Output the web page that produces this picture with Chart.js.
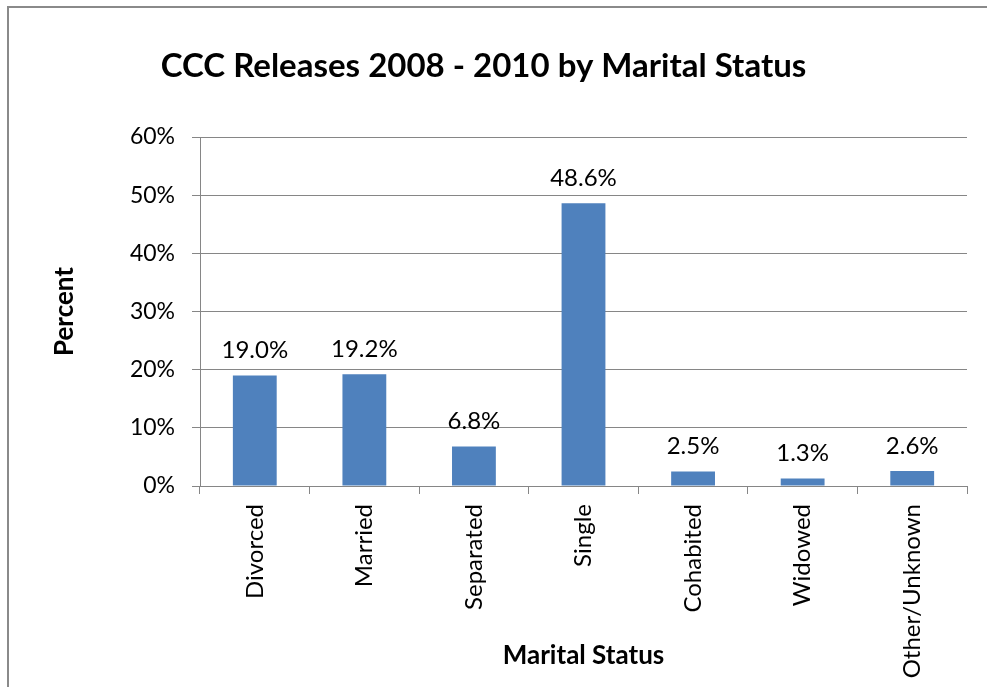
<!DOCTYPE html>
<html>
<head>
<meta charset="utf-8">
<script src="https://cdn.jsdelivr.net/npm/chart.js@4.4.1/dist/chart.umd.min.js"></script>
<style>
    html, body { margin: 0; padding: 0; background: #fff; overflow: hidden; }
    #wrap { position: relative; width: 987px; height: 687px; }
    #frame {
        position: absolute; left: 7px; top: 6px; width: 2000px; height: 2000px;
        border: 2px solid #8a8a8a; pointer-events: none;
    }
</style>
</head>
<body>
<div id="wrap">
    <canvas id="chart" width="987" height="687"></canvas>
    <div id="frame"></div>
</div>
<script>
// chart data
const categories = ["Divorced", "Married", "Separated", "Single", "Cohabited", "Widowed", "Other/Unknown"];
const percents = [19.0, 19.2, 6.8, 48.6, 2.5, 1.3, 2.6];
const yTicks = [0, 10, 20, 30, 40, 50, 60];

const gray = "#868686";
const font = "Lato";

// draw the value above each bar
const barLabels = {
    id: "barLabels",
    afterDatasetsDraw(chart) {
        let ctx = chart.ctx;
        ctx.save();
        ctx.font = "24px " + font;
        ctx.fillStyle = "#000";
        ctx.textAlign = "center";
        ctx.textBaseline = "middle";
        chart.getDatasetMeta(0).data.forEach((bar, i) => {
            ctx.fillText(percents[i].toFixed(1) + "%", bar.x, bar.y - 25);
        });
        ctx.restore();
    }
};

new Chart(document.getElementById("chart"), {
    type: "bar",
    data: {
        labels: categories,
        datasets: [{
            data: percents,
            backgroundColor: "#4f81bd",
            barPercentage: 0.4,
            categoryPercentage: 1
        }]
    },
    options: {
        responsive: false,
        animation: false,
        layout: { padding: { right: 20 } },
        plugins: {
            legend: { display: false },
            tooltip: { enabled: false },
            title: {
                display: true,
                text: "CCC Releases 2008 - 2010 by Marital Status",
                color: "#000",
                font: { family: font, size: 33, weight: "bold" },
                padding: { top: 46.2, bottom: 51.2 }
            }
        },
        scales: {
            x: {
                afterFit: s => { s.height = 201; },
                grid: { drawOnChartArea: false, color: gray, tickLength: 8 },
                border: { color: gray },
                ticks: {
                    color: "#000",
                    font: { family: font, size: 24 },
                    minRotation: 90, maxRotation: 90,
                    padding: 10
                },
                title: {
                    display: true,
                    text: "Marital Status",
                    color: "#000",
                    font: { family: font, size: 26, weight: "bold" },
                    padding: { top: 0, bottom: 16 }
                }
            },
            y: {
                min: 0, max: 60,
                afterFit: s => { s.width = 200; },
                afterBuildTicks: s => { s.ticks = yTicks.map(v => ({ value: v })); },
                grid: { color: gray, tickLength: 8 },
                border: { color: gray },
                ticks: {
                    color: "#000",
                    font: { family: font, size: 23 },
                    padding: 17,
                    callback: v => v + "%"
                },
                title: {
                    display: true,
                    text: "Percent",
                    color: "#000",
                    font: { family: font, size: 26, weight: "bold" },
                    padding: { top: 49.4, bottom: 0 }
                }
            }
        }
    },
    plugins: [barLabels]
});
</script>
</body>
</html>
